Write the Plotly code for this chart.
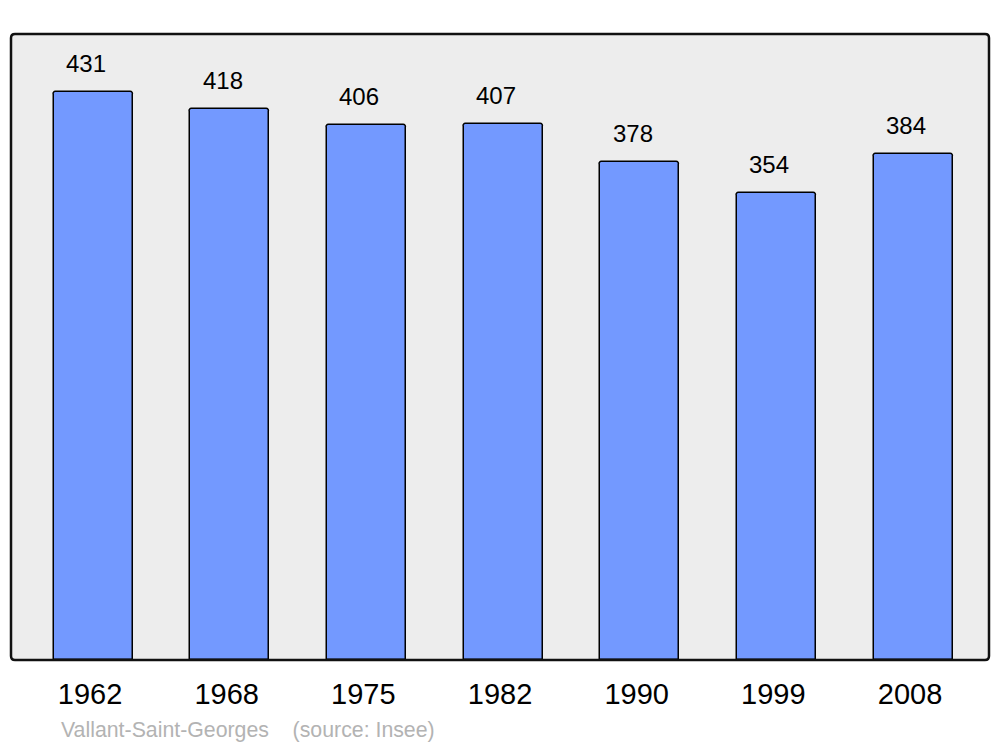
import plotly.graph_objects as go

years = ["1962", "1968", "1975", "1982", "1990", "1999", "2008"]
population = [431, 418, 406, 407, 378, 354, 384]
footer_text = "Vallant-Saint-Georges    (source: Insee)"

OFF = 8  # page body margin offset
W, H = 1000 - OFF, 747 - OFF
L, R, T, B = 11 - OFF, 11, 34 - OFF, 87
pw, ph = W - L - R, H - T - B

FONT = "Liberation Sans, Arial, sans-serif"

fig = go.Figure()
fig.add_trace(go.Bar(
    x=list(range(len(years))),
    y=population,
    width=0.578,
    marker=dict(color="#7399ff", line=dict(color="#000000", width=1.5), cornerradius=3),
    hoverinfo="skip",
))

for i, v in enumerate(population):
    fig.add_annotation(x=i, y=v, text=str(v), showarrow=False, xref="x", yref="y",
                       yanchor="bottom", yshift=13, xshift=-7,
                       font=dict(family=FONT, size=24, color="#000000"))

# footer (target page position x=61, y=730)
fig.add_annotation(x=(59 - OFF - L) / pw, y=-(730 - OFF - (H - B)) / ph,
                   xref="paper", yref="paper", xanchor="left", yanchor="middle",
                   text=footer_text, showarrow=False,
                   font=dict(family=FONT, size=21.3, color="#b3b3b3"))

# rounded frame around plot area
rx, ry = 4 / pw, 4 / ph
path = (f"M {rx},0 L {1-rx},0 Q 1,0 1,{ry} L 1,{1-ry} Q 1,1 {1-rx},1 "
        f"L {rx},1 Q 0,1 0,{1-ry} L 0,{ry} Q 0,0 {rx},0 Z")
fig.add_shape(type="path", path=path, xref="paper", yref="paper",
              line=dict(color="#111111", width=2.5), layer="above")

fig.update_layout(
    width=W, height=H,
    margin=dict(l=L, r=R, t=T, b=B),
    paper_bgcolor="#ffffff",
    plot_bgcolor="#ededed",
    showlegend=False,
    bargap=0,
    xaxis=dict(range=[-0.600, 6.556], tickmode="array", tickvals=list(range(len(years))),
               ticktext=years, showgrid=False, zeroline=False, showline=False,
               ticks="outside", ticklen=8, tickcolor="rgba(0,0,0,0)",
               ticklabelshift=-3,
               tickfont=dict(family=FONT, size=29, color="#000000"),
               fixedrange=True),
    yaxis=dict(range=[0, 475], showgrid=False, zeroline=False, showline=False,
               showticklabels=False, fixedrange=True),
)

fig.write_html("out.html")
